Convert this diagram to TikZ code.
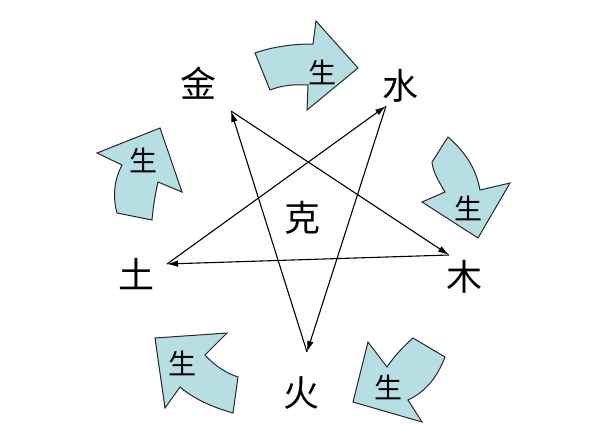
\documentclass[tikz,border=0pt]{standalone}
\usepackage{fontspec}
\newfontfamily\cjk{Noto Sans CJK SC}
\usetikzlibrary{arrows.meta}
\definecolor{arrowfill}{RGB}{183,222,226}
\definecolor{outline}{RGB}{40,40,40}
\begin{document}
\begin{tikzpicture}[x=1pt,y=-1pt,
  elem/.style={font=\cjk\fontsize{36}{36}\selectfont, inner sep=0pt},
  sheng/.style={font=\cjk\fontsize{28}{28}\selectfont, inner sep=0pt},
  blockarrow/.style={draw=outline, fill=arrowfill, line width=1pt, line join=miter},
  ke/.style={-{Latex[length=11pt,width=6.5pt]}, line width=1.1pt}]
\useasboundingbox (0,0) rectangle (596,424);

% block arrows (生)
\draw[blockarrow] (255,53) .. controls (275,46) and (295,44) .. (313,44)
  -- (316,21) -- (358,68) -- (307,110) -- (308,85)
  .. controls (292,84) and (280,86) .. (270,90) -- cycle;
\draw[blockarrow] (448,137) .. controls (465,152) and (476,168) .. (480,190)
  -- (510,183) -- (478,238) -- (422,202) -- (445,192)
  .. controls (438,180) and (433,172) .. (432,162) -- cycle;
\draw[blockarrow] (368,342) -- (387,367)
  .. controls (395,355) and (404,346) .. (413,338) -- (445,357)
  .. controls (437,378) and (425,392) .. (408,400)
  -- (422,422) -- (353,402) -- cycle;
\draw[blockarrow] (155,338) -- (227,333) -- (205,355)
  .. controls (215,366) and (226,373) .. (238,377) -- (233,413)
  .. controls (212,407) and (194,399) .. (180,387)
  -- (165,408) -- cycle;
\draw[blockarrow] (97,153) -- (160,128) -- (182,192) -- (158,182)
  .. controls (155,195) and (153,208) .. (152,220) -- (117,213)
  .. controls (112,195) and (115,178) .. (122,165) -- cycle;

\node[sheng] (s1) at (322,72) {生};
\node[sheng] (s2) at (468,208) {生};
\node[sheng] (s3) at (388,387) {生};
\node[sheng] (s4) at (182,363) {生};
\node[sheng] (s5) at (143,160) {生};

% elements
\node[elem] (jin) at (198,83) {金};
\node[elem] (shui) at (400,86) {水};
\node[elem] (mu) at (464,277) {木};
\node[elem] (tu) at (136,274) {土};
\node[elem] (huo) at (301,393) {火};
\node[elem] (ke) at (302,218) {克};

% star vertices
\coordinate (J) at (231,111);
\coordinate (S) at (386,106);
\coordinate (M) at (449,255);
\coordinate (T) at (167,264);
\coordinate (H) at (307,352);

\draw[ke] (J) -- (M);
\draw[ke] (M) -- (T);
\draw[ke] (T) -- (S);
\draw[ke] (S) -- (H);
\draw[ke] (H) -- (J);
\end{tikzpicture}
\end{document}
